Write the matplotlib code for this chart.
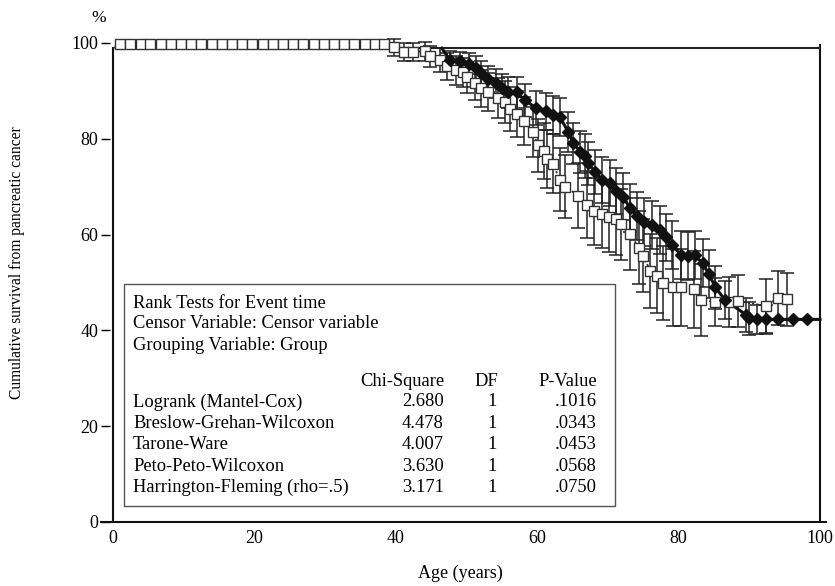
import matplotlib
matplotlib.use("Agg")
import matplotlib.pyplot as plt
import numpy as np
from matplotlib.patches import Rectangle

plt.rcParams["font.family"] = ["Liberation Serif", "DejaVu Serif"]

# ---- data ----
# open squares: flat plateau at the top, no visible error bars
sq_top_age = [1.0, 2.4, 3.9, 5.3, 6.8, 8.2, 9.6, 11.1, 12.5, 14.0, 15.4, 16.8,
              18.3, 19.7, 21.2, 22.6, 24.0, 25.5, 26.9, 28.4, 29.8, 31.2,
              32.7, 34.1, 35.6, 37.0, 38.4]
sq_top_surv = [99.7] * len(sq_top_age)

# open squares with 95% CI half-widths
sq_age = [39.7, 41.1, 42.5, 44.1, 44.9, 46.3, 47.3, 48.5, 49.5, 50.1, 51.2,
          52.0, 53.1, 54.4, 55.4, 56.2, 57.1, 58.2, 59.4, 60.1, 60.9, 61.4,
          62.2, 63.2, 64.0, 65.8, 67.0, 68.1, 69.1, 70.2, 71.1, 71.9, 73.1,
          74.4, 75.0, 76.0, 76.9, 77.8, 79.2, 80.3, 82.2, 83.2, 85.2, 87.2,
          88.4, 92.3, 94.1, 95.4]
sq_surv = [99.1, 98.1, 98.1, 98.3, 97.2, 96.4, 95.1, 94.3, 93.9, 92.8, 91.6,
           90.5, 89.8, 88.5, 87.6, 86.3, 85.2, 83.7, 81.4, 78.6, 77.4, 75.8,
           74.8, 71.5, 70.0, 68.1, 66.2, 64.9, 64.3, 63.6, 63.2, 62.2, 60.1,
           57.3, 55.6, 52.4, 51.4, 49.9, 49.0, 49.0, 48.6, 46.4, 45.9, 46.0,
           46.2, 45.1, 46.8, 46.5]
sq_err = [1.8, 1.8, 1.8, 2.0, 2.2, 2.5, 2.8, 3.0, 3.0, 3.3, 3.5,
          3.8, 4.0, 4.2, 4.4, 4.6, 4.8, 5.0, 5.3, 5.6, 5.8, 6.0,
          6.2, 6.5, 6.6, 6.8, 7.0, 7.0, 7.2, 7.2, 7.4, 7.4, 7.5,
          7.6, 7.6, 7.8, 7.8, 7.8, 8.0, 8.0, 8.0, 7.5, 5.0, 5.2,
          5.4, 5.6, 5.6, 5.5]

# filled diamonds with 95% CI half-widths (nan = no bar drawn)
dia_age = [47.7, 49.1, 50.3, 51.3, 52.1, 53.1, 54.2, 55.0, 55.9, 57.1, 58.3,
           59.9, 61.2, 62.3, 63.2, 64.4, 65.1, 66.1, 66.8, 67.2, 68.2, 69.2,
           70.3, 71.2, 72.2, 73.1, 74.1, 75.1, 76.2, 77.4, 78.2, 79.1, 80.3,
           81.4, 82.3, 83.4, 84.3, 85.2, 86.6, 89.6, 90.0, 91.1, 92.3, 94.1,
           96.2, 98.2]
dia_surv = [96.4, 96.2, 95.7, 94.8, 93.7, 92.5, 91.6, 90.6, 89.7, 89.7, 88.0,
            86.4, 85.7, 84.9, 84.6, 81.4, 79.1, 77.3, 76.4, 74.9, 73.1, 71.4,
            70.7, 69.0, 67.9, 65.5, 63.9, 62.7, 62.0, 61.0, 59.4, 57.8, 55.8,
            55.5, 55.7, 54.0, 51.7, 49.0, 46.3, 43.2, 42.5, 42.3, 42.3, 42.3,
            42.3, 42.3]
dia_err = [2.0, 2.0, 2.2, 2.4, 2.6, 2.8, 3.0, 3.0, 3.2, 3.2, 3.5,
           3.6, 3.8, 4.0, 4.0, 4.2, 4.3, 4.4, 4.5, 4.5, 4.6, 4.7,
           4.8, 4.8, 4.9, 5.0, 5.0, 5.0, 5.0, 5.0, 5.0, 5.0, 5.0,
           5.0, 5.0, 5.0, 5.0, 4.5, 4.0, 3.5, 3.5, 3.0, 3.0, np.nan,
           np.nan, np.nan]
dia_start_surv = 98.9     # plateau before the first event
dia_start_end_age = 46.5
dia_end_surv = 42.3       # carried to the end of follow-up

FRAME_TOP = 98.9
x_ticks = [0, 20, 40, 60, 80, 100]
y_ticks = [0, 20, 40, 60, 80, 100]

table_header = ["Rank Tests for Event time",
                "Censor Variable: Censor variable",
                "Grouping Variable: Group"]
col_names = ["Chi-Square", "DF", "P-Value"]
tests = ["Logrank (Mantel-Cox)", "Breslow-Grehan-Wilcoxon", "Tarone-Ware",
         "Peto-Peto-Wilcoxon", "Harrington-Fleming (rho=.5)"]
chi_sq = ["2.680", "4.478", "4.007", "3.630", "3.171"]
dfs = ["1", "1", "1", "1", "1"]
p_vals = [".1016", ".0343", ".0453", ".0568", ".0750"]

# ---- figure ----
W, H = 835, 586
fig = plt.figure(figsize=(W / 100, H / 100), dpi=100)


def fx(px):
    return px / W


def fy(py):
    return 1 - py / H


ax = fig.add_axes([fx(101), fy(522), (826 - 101) / W, (522 - 38.2) / H])
ax.set_xlim(-1.70, 100.85)
ax.set_ylim(0, 101)

for s in ("left", "right", "top"):
    ax.spines[s].set_visible(False)
ax.spines["bottom"].set_linewidth(1.5)
ax.spines["bottom"].set_color("#111111")

ax.set_xticks(x_ticks)
ax.set_yticks(y_ticks)
ax.tick_params(axis="x", length=0, pad=6, labelsize=13)
ax.tick_params(axis="y", direction="in", length=6.5, width=1.0, pad=2,
               labelsize=13)

# frame lines
ax.plot([0, 0], [0, FRAME_TOP], color="#111111", lw=1.5, zorder=2)
ax.plot([100, 100], [0, FRAME_TOP + 0.7], color="#111111", lw=1.5, zorder=2)
ax.plot([sq_top_age[-1], 100], [FRAME_TOP, FRAME_TOP], color="#222222",
        lw=1.5, zorder=2)

# squares group
all_sq_age = [0] + sq_top_age + sq_age
all_sq_surv = [FRAME_TOP] + sq_top_surv + sq_surv
ax.plot(all_sq_age, all_sq_surv, color="#333333", lw=1.3,
        linestyle=(0, (1.2, 1.2)), zorder=3)
ax.errorbar(sq_age, sq_surv, yerr=sq_err, fmt="none", ecolor="#222222",
            elinewidth=1.1, capsize=5.2, capthick=1.1, zorder=3)
ax.plot(sq_top_age + sq_age, sq_top_surv + sq_surv, linestyle="none",
        marker="s", ms=6.5, mfc="white", mec="#333333", mew=1.0, zorder=5)

# diamonds group
ax.errorbar(dia_age, dia_surv, yerr=dia_err, fmt="none", ecolor="#222222",
            elinewidth=1.1, capsize=5.2, capthick=1.1, zorder=3)
line_age = [0, dia_start_end_age] + dia_age + [100]
line_surv = [dia_start_surv, dia_start_surv] + dia_surv + [dia_end_surv]
ax.plot(line_age[1:], line_surv[1:], color="#111111", lw=2.2, zorder=4)
ax.plot(dia_age, dia_surv, linestyle="none", marker="D", ms=6.5,
        mfc="#111111", mec="#111111", zorder=6)

# text box
fig.add_artist(Rectangle((fx(124), fy(506)), (615 - 124) / W, (506 - 284) / H,
                         transform=fig.transFigure, facecolor="white",
                         edgecolor="#555555", lw=1.0, zorder=7))
fs = 13.3
for i, line in enumerate(table_header):
    fig.text(fx(133), fy(303 + 21 * i), line, fontsize=fs, va="center",
             ha="left", zorder=8)
fig.text(fx(444), fy(381), col_names[0], fontsize=fs, va="center", ha="right", zorder=8)
fig.text(fx(498), fy(381), col_names[1], fontsize=fs, va="center", ha="right", zorder=8)
fig.text(fx(597), fy(381), col_names[2], fontsize=fs, va="center", ha="right", zorder=8)
for i in range(len(tests)):
    y = fy(402 + 21.4 * i)
    fig.text(fx(133), y, tests[i], fontsize=fs, va="center", ha="left", zorder=8)
    fig.text(fx(444), y, chi_sq[i], fontsize=fs, va="center", ha="right", zorder=8)
    fig.text(fx(497), y, dfs[i], fontsize=fs, va="center", ha="right", zorder=8)
    fig.text(fx(597), y, p_vals[i], fontsize=fs, va="center", ha="right", zorder=8)

# axis labels
fig.text(fx(99), fy(18), "%", fontsize=12.5, ha="center", va="center")
fig.text(fx(17), fy(263), "Cumulative survival from pancreatic cancer",
         fontsize=11.2, rotation=90, ha="center", va="center")
fig.text(fx(460), fy(573), "Age (years)", fontsize=13, ha="center",
         va="center")

fig.savefig("out.png", dpi=100)
